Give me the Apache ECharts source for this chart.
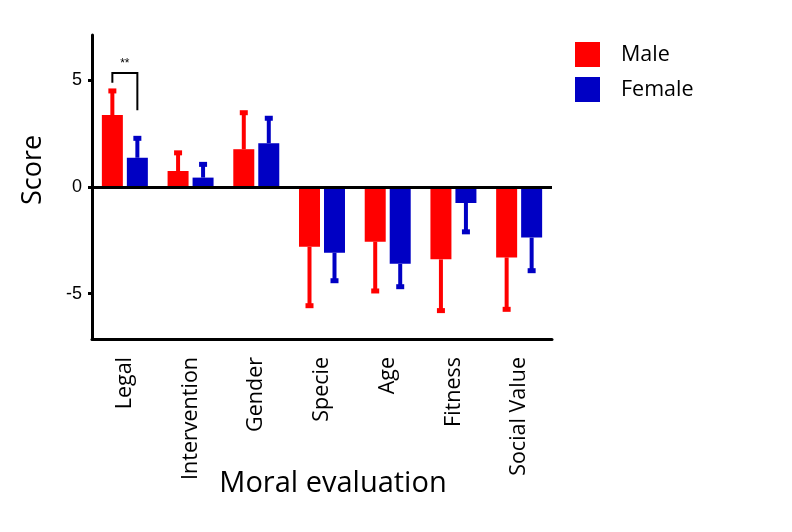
<!DOCTYPE html>
<html>
<head>
<meta charset="utf-8">
<script src="https://cdn.jsdelivr.net/npm/echarts@6/dist/echarts.min.js"></script>
<style>html,body{margin:0;padding:0;background:#fff}#c{width:792px;height:532px}</style>
</head>
<body>
<div id="c"></div>
<script>
var categories = ['Legal', 'Intervention', 'Gender', 'Specie', 'Age', 'Fitness', 'Social Value'];
var maleValues = [3.37, 0.75, 1.77, -2.8, -2.56, -3.39, -3.3];
var femaleValues = [1.37, 0.44, 2.05, -3.08, -3.6, -0.75, -2.37];
var maleErrEnd = [4.5, 1.6, 3.48, -5.56, -4.87, -5.79, -5.73];
var femaleErrEnd = [2.28, 1.06, 3.22, -4.39, -4.67, -2.1, -3.92];
var yTicks = [-5, 0, 5];
// significance bracket: category index, left leg bottom, top, right leg bottom
var bracket = [[0, 4.88, 5.34, 3.6]];
var sigLabel = '**';

var RED = '#ff0000', BLUE = '#0000c4';
var BAR_W = 21, OFFSET = 12.5;

function errData(vals, ends) {
  return vals.map(function (v, i) { return [i, v, ends[i]]; });
}
function errRender(off, color) {
  return function (params, api) {
    var c0 = api.coord([api.value(0), api.value(1)]);
    var c1 = api.coord([api.value(0), api.value(2)]);
    var x = c0[0] + off;
    return {
      type: 'group',
      children: [
        { type: 'line', shape: { x1: x, y1: c0[1], x2: x, y2: c1[1] }, style: { stroke: color, lineWidth: 4 } },
        { type: 'rect', shape: { x: x - 4, y: c1[1] - 2.5, width: 8, height: 5 }, style: { fill: color } }
      ]
    };
  };
}

var chart = echarts.init(document.getElementById('c'));
chart.setOption({
  animation: false,
  backgroundColor: '#fff',
  grid: { left: 92, right: 240, top: 35, bottom: 193, containLabel: false, outerBoundsMode: 'none' },
  legend: {
    orient: 'vertical', left: 575, top: 42, itemWidth: 25, itemHeight: 25, itemGap: 10,
    padding: 0, icon: 'rect',
    textStyle: { fontFamily: 'Open Sans', fontSize: 21.5, color: '#000', padding: [0, 0, 0, 16] },
    data: ['Male', 'Female']
  },
  xAxis: {
    type: 'category', data: categories,
    axisLine: { onZero: false, lineStyle: { color: '#000', width: 3 } },
    axisTick: { alignWithLabel: true, length: 4, lineStyle: { color: '#000', width: 3 } },
    axisLabel: { rotate: 90, margin: 18, fontFamily: 'Open Sans', fontSize: 21.5, color: '#000', interval: 0 },
    name: 'Moral evaluation', nameLocation: 'middle', nameGap: 130, nameMoveOverlap: false,
    nameTextStyle: { fontFamily: 'Open Sans', fontSize: 29, color: '#000', padding: [0, 0, 0, 22] }
  },
  yAxis: {
    type: 'value', min: -7.12, max: 7.12,
    splitLine: { show: false },
    axisLine: { show: true, lineStyle: { color: '#000', width: 3 } },
    axisTick: { show: true, length: 4, customValues: yTicks, lineStyle: { color: '#000', width: 3 } },
    axisLabel: { customValues: yTicks, margin: 10, fontFamily: 'Liberation Sans', fontSize: 18, color: '#000' },
    name: 'Score', nameLocation: 'middle', nameGap: 45, nameMoveOverlap: false,
    nameTextStyle: { fontFamily: 'Open Sans', fontSize: 27, color: '#000', padding: [0, 0, 0, 34] }
  },
  series: [
    {
      name: 'Male', type: 'bar', data: maleValues, barWidth: BAR_W, barGap: '19%',
      itemStyle: { color: RED },
      markLine: {
        silent: true, symbol: ['none', 'none'], label: { show: false },
        lineStyle: { color: '#000', width: 3, type: 'solid' },
        data: [{ yAxis: 0 }]
      }
    },
    { name: 'Female', type: 'bar', data: femaleValues, barWidth: BAR_W, itemStyle: { color: BLUE } },
    { type: 'custom', data: errData(maleValues, maleErrEnd), renderItem: errRender(-OFFSET, RED), z: 1 },
    { type: 'custom', data: errData(femaleValues, femaleErrEnd), renderItem: errRender(OFFSET, BLUE), z: 1 },
    {
      type: 'custom', data: bracket, z: 5,
      renderItem: function (params, api) {
        var ctr = api.coord([api.value(0), 0])[0];
        var yl = api.coord([api.value(0), api.value(1)])[1];
        var yt = api.coord([api.value(0), api.value(2)])[1];
        var yr = api.coord([api.value(0), api.value(3)])[1];
        var xl = ctr - OFFSET, xr = ctr + OFFSET;
        return {
          type: 'group',
          children: [
            { type: 'polyline', shape: { points: [[xl, yl], [xl, yt], [xr, yt], [xr, yr]] }, style: { stroke: '#000', lineWidth: 2, fill: null } },
            { type: 'text', x: ctr, y: yt - 3, style: { text: sigLabel, fontFamily: 'Liberation Sans', fontSize: 12, fill: '#000', align: 'center', verticalAlign: 'bottom' } }
          ]
        };
      }
    }
  ]
});
</script>
</body>
</html>
